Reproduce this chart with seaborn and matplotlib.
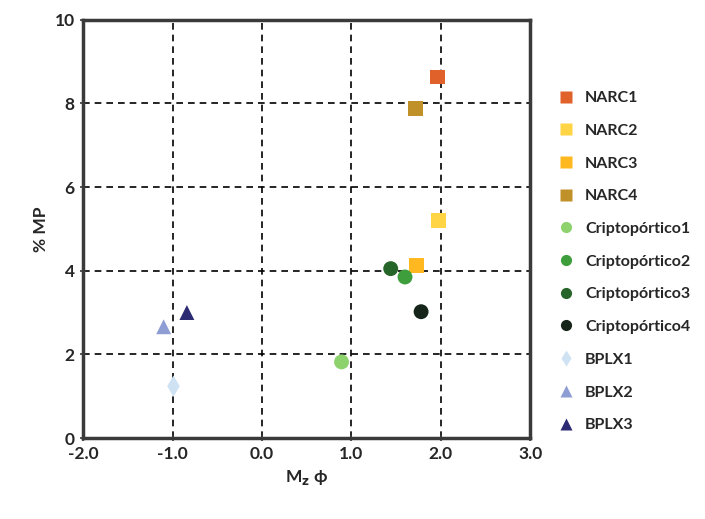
import matplotlib; matplotlib.use("Agg")
import matplotlib.pyplot as plt
import seaborn as sns
import pandas as pd

samples = ["NARC1", "NARC2", "NARC3", "NARC4",
           "Criptopórtico1", "Criptopórtico2", "Criptopórtico3", "Criptopórtico4",
           "BPLX1", "BPLX2", "BPLX3"]
mz_phi = [1.96, 1.97, 1.73, 1.72, 0.89, 1.60, 1.44, 1.78, -0.99, -1.10, -0.84]
pct_mp = [8.63, 5.20, 4.12, 7.88, 1.82, 3.85, 4.05, 3.02, 1.24, 2.66, 3.00]
colors = ["#E0612A", "#FFD545", "#FFB81F", "#BF9128",
          "#8ED26E", "#3E9E3C", "#26652A", "#15251A",
          "#CFE2F3", "#8E9DD3", "#2B2A72"]
markers = ["s", "s", "s", "s", "o", "o", "o", "o", "d", "^", "^"]

df = pd.DataFrame({"sample": samples, "x": mz_phi, "y": pct_mp})

sns.set_theme(style="white")
plt.rcParams["font.family"] = ["Lato", "DejaVu Sans"]

fig = plt.figure(figsize=(7.05, 5.19), dpi=100)
ax = fig.add_axes([0.118, 0.156, 0.634, 0.806])

sns.scatterplot(data=df, x="x", y="y", hue="sample", style="sample",
                hue_order=samples, style_order=samples,
                palette=dict(zip(samples, colors)),
                markers=dict(zip(samples, markers)),
                s=115, edgecolor="none", ax=ax, zorder=3)

ax.set_xlim(-2, 3)
ax.set_ylim(0, 10)
ax.set_xticks([-2, -1, 0, 1, 2, 3])
ax.set_xticklabels(["-2.0", "-1.0", "0.0", "1.0", "2.0", "3.0"])
ax.set_yticks([0, 2, 4, 6, 8, 10])
ax.grid(True, color="black", ls=(0, (4, 3)), lw=1.2)
ax.set_axisbelow(True)
for sp in ax.spines.values():
    sp.set_color("#3a3a3a")
    sp.set_linewidth(2.5)
ax.tick_params(axis="both", labelsize=12.5, length=5, width=1.2, color="#3a3a3a",
               direction="inout", bottom=True, left=True)
for lab in ax.get_xticklabels() + ax.get_yticklabels():
    lab.set_fontweight("bold")
ax.set_xlabel("M$_\\mathbf{z}$ ϕ", fontsize=12.5, fontweight="bold")
ax.set_ylabel("% MP", fontsize=12.5, fontweight="bold")

leg = ax.legend(loc="upper left", bbox_to_anchor=(1.03, 0.845), frameon=False,
                fontsize=11.5, labelspacing=1.16, handletextpad=0.2,
                markerscale=0.75, borderaxespad=0)
for t in leg.get_texts():
    t.set_fontweight("bold")

fig.savefig("out.png", dpi=100)
